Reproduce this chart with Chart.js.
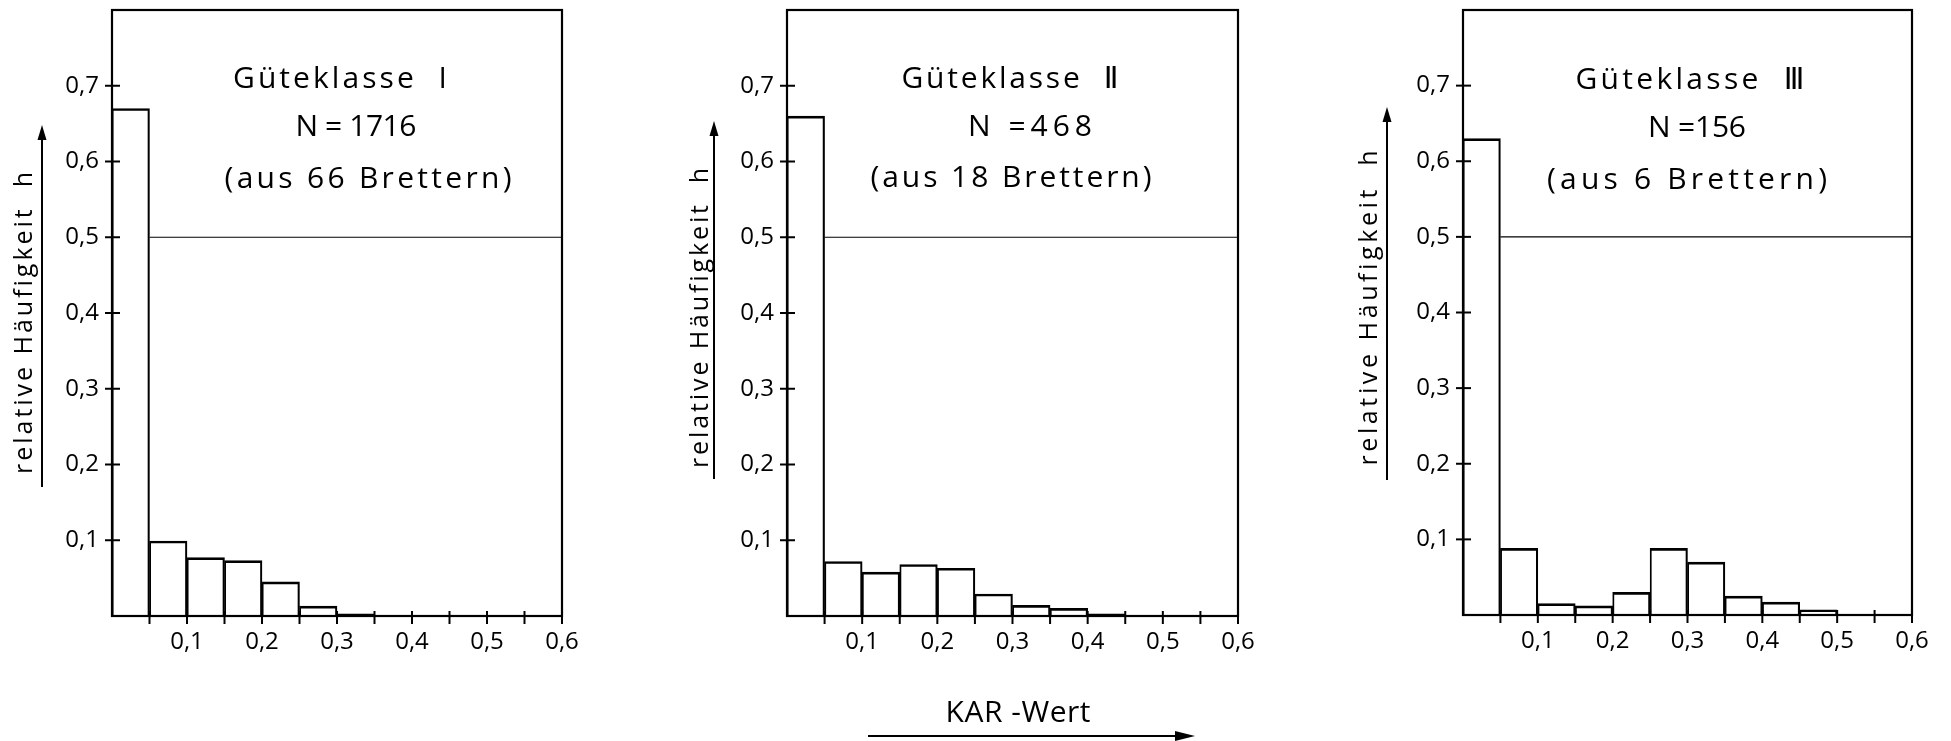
<!DOCTYPE html>
<html>
<head>
<meta charset="utf-8">
<script src="https://cdn.jsdelivr.net/npm/chart.js@4.4.1/dist/chart.umd.min.js"></script>
<style>
  html, body { margin: 0; padding: 0; background: #fff; overflow: hidden; }
  #page { position: relative; width: 1951px; height: 741px; }
  canvas { position: absolute; top: 0; }
</style>
</head>
<body>
<div id="page">
  <canvas id="gk1" width="600" height="741" style="left:0px"></canvas>
  <canvas id="gk2" width="600" height="741" style="left:675px"></canvas>
  <canvas id="gk3" width="600" height="741" style="left:1351px"></canvas>
</div>
<script>
// KAR-Wert classes, width 0,05 (class centres)
var binCenters = [0.025, 0.075, 0.125, 0.175, 0.225, 0.275, 0.325, 0.375, 0.425, 0.475, 0.525, 0.575];

// relative Häufigkeit h per class
var hKlasse1 = [0.670, 0.099, 0.077, 0.073, 0.045, 0.013, 0.003, 0, 0, 0, 0, 0];
var hKlasse2 = [0.660, 0.072, 0.058, 0.068, 0.063, 0.029, 0.014, 0.010, 0.003, 0, 0, 0];
var hKlasse3 = [0.630, 0.088, 0.015, 0.012, 0.030, 0.088, 0.070, 0.025, 0.017, 0.007, 0, 0];

// 0,5 level line
var refLevel = 0.5;
var refFrom = 0.05;
var refTo = 0.6;

var yTickValues = [0.1, 0.2, 0.3, 0.4, 0.5, 0.6, 0.7];
var yTickLabels = ['0,1', '0,2', '0,3', '0,4', '0,5', '0,6', '0,7'];
var xTickValues = [0.1, 0.2, 0.3, 0.4, 0.5, 0.6];
var xTickLabels = ['0,1', '0,2', '0,3', '0,4', '0,5', '0,6'];
var xTickMarks = [0.05, 0.1, 0.15, 0.2, 0.25, 0.3, 0.35, 0.4, 0.45, 0.5, 0.55, 0.6];

var titles1 = ['Güteklasse  I', 'N = 1716', '(aus 66 Brettern)'];
var titles2 = ['Güteklasse  Ⅱ', 'N =468', '(aus 18 Brettern)'];
var titles3 = ['Güteklasse  Ⅲ', 'N =156', '(aus 6 Brettern)'];

var yAxisTitle = 'relative Häufigkeit  h';
var xAxisTitle = 'KAR -Wert';

var FONT = '"Open Sans", "DejaVu Sans", sans-serif';

// page layout (absolute px)
var panels = [
  { id: 'gk1', canvasLeft: 0, left: 112, right: 562, bottom: 616, values: hKlasse1, titles: titles1,
    titleX: [340, 356, 368], titleW: [214, 121, 287], titleY: [79, 127, 179],
    yLabelX: 25, yLabelY: 323, yLabelW: 302, arrowX: 42, arrowTop: 125, arrowBottom: 487 },
  { id: 'gk2', canvasLeft: 675, left: 787, right: 1238, bottom: 616, values: hKlasse2, titles: titles2,
    titleX: [1010, 1030, 1011], titleW: [217, 124, 281], titleY: [79, 127, 178],
    yLabelX: 701, yLabelY: 318, yLabelW: 300, arrowX: 714, arrowTop: 121, arrowBottom: 479,
    xTitle: { x: 1018, y: 713, w: 145, arrowFrom: 868, arrowTo: 1195, arrowY: 736 } },
  { id: 'gk3', canvasLeft: 1351, left: 1463, right: 1912, bottom: 615, values: hKlasse3, titles: titles3,
    titleX: [1690, 1697, 1687], titleW: [229, 98, 280], titleY: [80, 128, 180],
    yLabelX: 1370, yLabelY: 308, yLabelW: 315, arrowX: 1387, arrowTop: 107, arrowBottom: 480 }
];

function fitText(ctx, text, cx, cy, width) {
  ctx.letterSpacing = '0px';
  var w0 = ctx.measureText(text).width;
  var ls = text.length > 1 ? (width - w0) / (text.length - 1) : 0;
  if (ls < -2) ls = -2;
  ctx.letterSpacing = ls + 'px';
  ctx.textAlign = 'left';
  ctx.textBaseline = 'middle';
  ctx.fillText(text, cx - width / 2, cy);
  ctx.letterSpacing = '0px';
}

function arrowUp(ctx, x, top, bottom) {
  ctx.lineWidth = 2;
  ctx.beginPath();
  ctx.moveTo(x, bottom);
  ctx.lineTo(x, top + 10);
  ctx.stroke();
  ctx.beginPath();
  ctx.moveTo(x, top);
  ctx.lineTo(x - 4.5, top + 15);
  ctx.lineTo(x + 4.5, top + 15);
  ctx.closePath();
  ctx.fill();
}

function arrowRight(ctx, y, from, to) {
  ctx.lineWidth = 2;
  ctx.beginPath();
  ctx.moveTo(from, y);
  ctx.lineTo(to - 10, y);
  ctx.stroke();
  ctx.beginPath();
  ctx.moveTo(to, y);
  ctx.lineTo(to - 20, y - 5);
  ctx.lineTo(to - 20, y + 5);
  ctx.closePath();
  ctx.fill();
}

function makeDecor(p) {
  return {
    id: 'decor_' + p.id,
    afterDraw: function (chart) {
      var ctx = chart.ctx;
      var a = chart.chartArea;
      var xs = chart.scales.x, ys = chart.scales.y;
      var off = p.canvasLeft;
      ctx.save();
      ctx.strokeStyle = '#000';
      ctx.fillStyle = '#000';

      // frame
      ctx.lineWidth = 2.2;
      ctx.strokeRect(a.left, a.top, a.right - a.left, a.bottom - a.top);

      // crossing tick marks
      ctx.lineWidth = 2;
      yTickValues.forEach(function (v) {
        var y = ys.getPixelForValue(v);
        ctx.beginPath();
        ctx.moveTo(a.left - 7, y);
        ctx.lineTo(a.left + 8, y);
        ctx.stroke();
      });
      xTickMarks.forEach(function (v) {
        var x = xs.getPixelForValue(v);
        ctx.beginPath();
        ctx.moveTo(x, a.bottom - 5);
        ctx.lineTo(x, a.bottom + 8);
        ctx.stroke();
      });

      // titles inside the frame
      ctx.font = '30px ' + FONT;
      p.titles.forEach(function (t, i) {
        fitText(ctx, t, p.titleX[i] - off, p.titleY[i], p.titleW[i]);
      });

      // y axis title with arrow
      ctx.save();
      ctx.translate(p.yLabelX - off, p.yLabelY);
      ctx.rotate(-Math.PI / 2);
      ctx.font = '25px ' + FONT;
      fitText(ctx, yAxisTitle, 0, 0, p.yLabelW);
      ctx.restore();
      arrowUp(ctx, p.arrowX - off, p.arrowTop, p.arrowBottom);

      // x axis title with arrow (middle panel only)
      if (p.xTitle) {
        ctx.font = '30px ' + FONT;
        fitText(ctx, xAxisTitle, p.xTitle.x - off, p.xTitle.y, p.xTitle.w);
        arrowRight(ctx, p.xTitle.arrowY, p.xTitle.arrowFrom - off, p.xTitle.arrowTo - off);
      }
      ctx.restore();
    }
  };
}

function makeChart(p) {
  var bars = binCenters.map(function (x, i) { return { x: x, y: p.values[i] }; });
  var canvas = document.getElementById(p.id);
  return new Chart(canvas.getContext('2d'), {
    type: 'bar',
    data: {
      datasets: [{
        type: 'bar',
        data: bars,
        backgroundColor: 'rgba(0,0,0,0)',
        borderColor: '#000',
        borderWidth: { top: 2, left: 1.2, right: 1.5, bottom: 0 },
        borderSkipped: 'start',
        barPercentage: 1,
        categoryPercentage: 1
      }, {
        type: 'line',
        data: [{ x: refFrom, y: refLevel }, { x: refTo, y: refLevel }],
        borderColor: '#000',
        borderWidth: 1.2,
        pointRadius: 0,
        fill: false
      }]
    },
    options: {
      responsive: false,
      animation: false,
      layout: {
        padding: { left: 0, top: 10, right: canvas.width - (p.right - p.canvasLeft), bottom: 0 }
      },
      plugins: {
        legend: { display: false },
        tooltip: { enabled: false }
      },
      scales: {
        x: {
          type: 'linear',
          min: 0,
          max: 0.6,
          offset: false,
          afterBuildTicks: function (s) {
            s.ticks = xTickValues.map(function (v) { return { value: v }; });
          },
          ticks: {
            autoSkip: false,
            maxRotation: 0,
            padding: 12,
            color: '#000',
            font: { family: FONT, size: 24 },
            callback: function (v, i) { return xTickLabels[i]; }
          },
          grid: { display: false, drawTicks: false },
          border: { display: false },
          afterFit: function (s) {
            s.height = canvas.height - p.bottom;
            s.paddingLeft = 0;
            s.paddingRight = 0;
          }
        },
        y: {
          min: 0,
          max: 0.8,
          afterBuildTicks: function (s) {
            s.ticks = yTickValues.map(function (v) { return { value: v }; });
          },
          ticks: {
            padding: 13,
            color: '#000',
            font: { family: FONT, size: 24 },
            callback: function (v, i) { return yTickLabels[i]; }
          },
          grid: { display: false, drawTicks: false },
          border: { display: false },
          afterFit: function (s) {
            s.width = p.left - p.canvasLeft;
            s.paddingTop = 0;
            s.paddingBottom = 0;
          }
        }
      }
    },
    plugins: [makeDecor(p)]
  });
}

panels.forEach(makeChart);
</script>
</body>
</html>
